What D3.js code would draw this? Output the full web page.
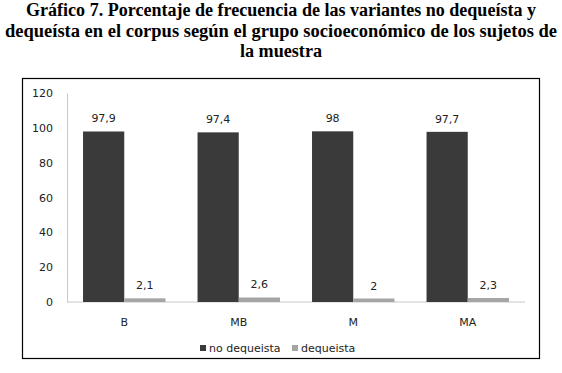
<!DOCTYPE html>
<html><head><meta charset="utf-8">
<script src="https://cdn.jsdelivr.net/npm/d3@7"></script>
<style>body{margin:0;background:#fff}</style>
</head><body>
<svg id="c" width="562" height="373"></svg>
<script>
const categories = ["B", "MB", "M", "MA"];
const seriesNames = ["no dequeista", "dequeista"];
const noDequeista = [97.9, 97.4, 98, 97.7];
const dequeista = [2.1, 2.6, 2, 2.3];
const valueLabels = [["97,9", "97,4", "98", "97,7"], ["2,1", "2,6", "2", "2,3"]];
const yTicks = [0, 20, 40, 60, 80, 100, 120];
const titleLines = [
  "Gráfico 7. Porcentaje de frecuencia de las variantes no dequeísta y",
  "dequeísta en el corpus según el grupo socioeconómico de los sujetos de",
  "la muestra"
];
const titleWidths = [510, 552, 82];

const colors = ["#3a3a3a", "#a5a5a5"];
const series = [noDequeista, dequeista];
const svg = d3.select("#c");

// Title
svg.append("g").selectAll("text").data(titleLines).join("text")
  .attr("x", 281).attr("y", (d, i) => 16 + i * 20.5)
  .attr("text-anchor", "middle")
  .attr("font-family", "Liberation Serif, serif")
  .attr("font-weight", "bold").attr("font-size", 18)
  .attr("textLength", (d, i) => titleWidths[i]).attr("lengthAdjust", "spacingAndGlyphs")
  .attr("fill", "#000").text(d => d);

// Frame
svg.append("rect").attr("x", 22.5).attr("y", 78.5).attr("width", 517).attr("height", 280)
  .attr("fill", "none").attr("stroke", "#000").attr("stroke-width", 1.2);

const x0 = d3.scaleBand().domain(categories).range([67, 525]).paddingInner(0.28).paddingOuter(0.14);
const x1 = d3.scaleBand().domain([0, 1]).range([0, x0.bandwidth()]);
const y = d3.scaleLinear().domain([0, 120]).range([302, 93]);

// Y axis
const yAxis = d3.axisLeft(y).tickValues(yTicks).tickSize(0).tickPadding(14).tickFormat(d3.format("d"));
const ya = svg.append("g").attr("transform", "translate(67,0)").call(yAxis);
ya.select(".domain").attr("stroke", "#c8c8c8");
ya.selectAll("text").attr("font-family", "DejaVu Sans, sans-serif").attr("font-size", 11).attr("fill", "#222");

// X axis
const xAxis = d3.axisBottom(x0).tickSize(0).tickPadding(16);
const xa = svg.append("g").attr("transform", "translate(0,302)").call(xAxis);
xa.select(".domain").attr("stroke", "#c8c8c8").attr("d", "M67,0H525");
xa.selectAll("text").attr("font-family", "DejaVu Sans, sans-serif").attr("font-size", 11).attr("fill", "#222");

// Bars
categories.forEach((c, ci) => {
  series.forEach((s, si) => {
    const bx = x0(c) + x1(si);
    svg.append("rect").attr("x", bx).attr("y", y(s[ci]))
      .attr("width", x1.bandwidth()).attr("height", y(0) - y(s[ci]))
      .attr("fill", colors[si]);
    svg.append("text").attr("x", bx + x1.bandwidth() / 2).attr("y", y(s[ci]) - 9)
      .attr("text-anchor", "middle").attr("font-family", "DejaVu Sans, sans-serif")
      .attr("font-size", 11).attr("fill", "#222").text(valueLabels[si][ci]);
  });
});

// Legend
const legendX = [200, 292];
seriesNames.forEach((n, i) => {
  svg.append("rect").attr("x", legendX[i]).attr("y", 345).attr("width", 6).attr("height", 6).attr("fill", colors[i]);
  svg.append("text").attr("x", legendX[i] + 9).attr("y", 352)
    .attr("font-family", "DejaVu Sans, sans-serif").attr("font-size", 11).attr("fill", "#222").text(n);
});
</script>
</body></html>
